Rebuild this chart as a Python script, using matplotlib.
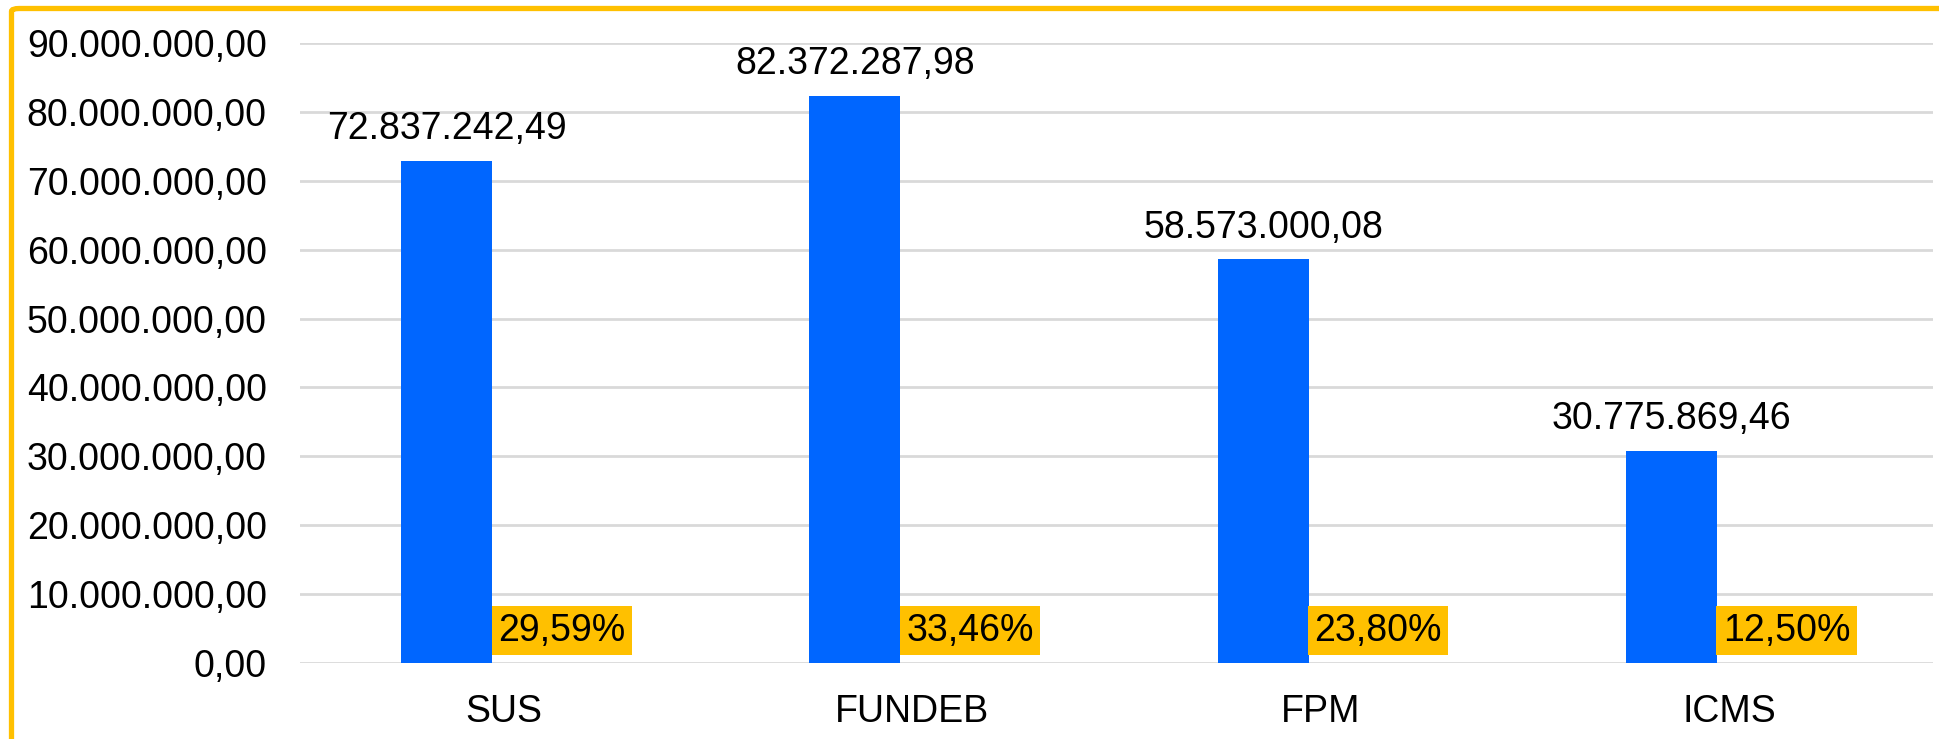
import matplotlib.pyplot as plt
from matplotlib.patches import FancyBboxPatch
import numpy as np

categories = ['SUS', 'FUNDEB', 'FPM', 'ICMS']
values = [72837242.49, 82372287.98, 58573000.08, 30775869.46]
value_labels = ['72.837.242,49', '82.372.287,98', '58.573.000,08', '30.775.869,46']
pct_labels = ['29,59%', '33,46%', '23,80%', '12,50%']
yticks = list(range(0, 90000001, 10000000))

BLUE = '#0066FF'
GOLD = '#FFC000'
FS = 27

plt.rcParams['font.family'] = ['Liberation Sans', 'DejaVu Sans']

fig = plt.figure(figsize=(19.39, 7.39), dpi=100)
ax = fig.add_axes([300 / 1939, 1 - 663 / 739, 1633 / 1939, 620 / 739])

x = np.arange(len(categories))
off = 0.141
w = 0.223
ax.bar(x - off, values, width=w, color=BLUE, zorder=3)

for xi, v, lab in zip(x, values, value_labels):
    ax.annotate(lab, (xi - off, v), xytext=(0, 10), textcoords='offset points',
                ha='center', va='bottom', fontsize=FS, zorder=4)

for xi, lab in zip(x, pct_labels):
    ax.text(xi + off, 4700000, lab, ha='center', va='center', fontsize=FS,
            zorder=4, bbox=dict(boxstyle='square,pad=0.17', fc=GOLD, ec='none'))

ax.set_xlim(-0.5, len(categories) - 0.5)
ax.set_ylim(0, 90000000)
ax.set_yticks(yticks)
ax.set_yticklabels([f'{t:,.2f}'.replace(',', 'X').replace('.', ',').replace('X', '.') for t in yticks])
ax.set_xticks(x)
ax.set_xticklabels(categories)
ax.tick_params(axis='both', length=0, labelsize=FS)
ax.tick_params(axis='y', pad=24)
ax.tick_params(axis='x', pad=22)
ax.grid(axis='y', color='#D9D9D9', linewidth=2, zorder=0)
for s in ax.spines.values():
    s.set_visible(False)

# outer frame, cut off at right and bottom like the reference
frame = FancyBboxPatch((11.5 / 1939, -0.2), 2.0, 1 - 8.5 / 739 + 0.2,
                       boxstyle='round,pad=0,rounding_size=0.004',
                       transform=fig.transFigure, fill=False, ec=GOLD, lw=3.8)
fig.add_artist(frame)

fig.savefig('out.png', dpi=100, facecolor='white')
